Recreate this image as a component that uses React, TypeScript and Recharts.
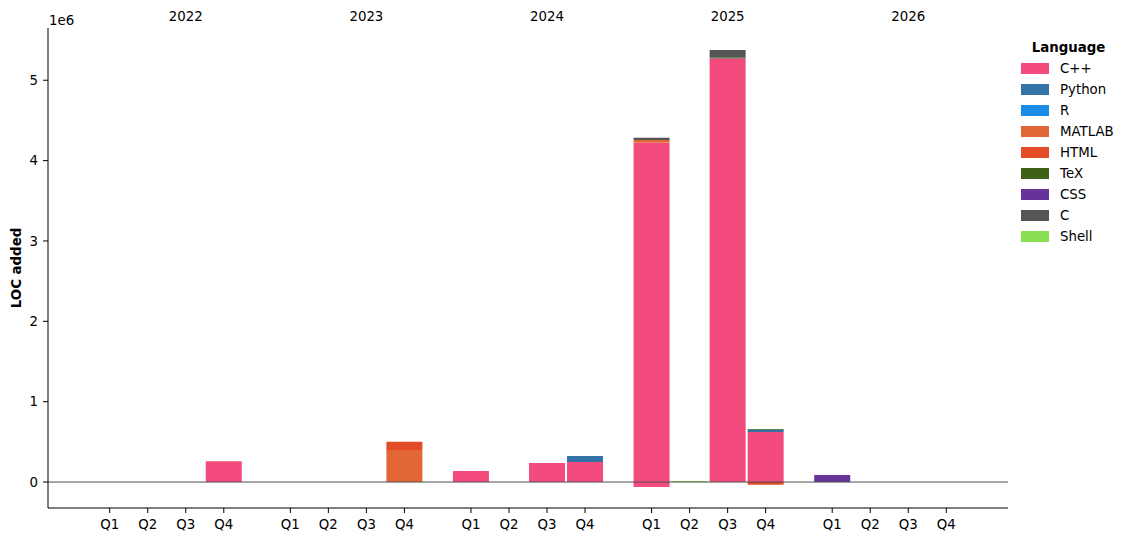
import React from 'react';
import { BarChart, Bar, XAxis, YAxis, ReferenceLine } from 'recharts';

const years = ['2022', '2023', '2024', '2025', '2026'];
const quarters = ['Q1', 'Q2', 'Q3', 'Q4'];
const languages = ['C++', 'Python', 'R', 'MATLAB', 'HTML', 'TeX', 'CSS', 'C', 'Shell'];
const colors = ['#f34b7d', '#3572A5', '#198CE7', '#e16737', '#e34c26', '#3D6117', '#663399', '#555555', '#89e051'];

// LOC added per quarter (2022Q1 .. 2026Q4)
const cppAdded = [0, 0, 0, 260000, 0, 0, 0, 0, 137000, 0, 236000, 250000, 4225000, 0, 5270000, 622000, 0, 0, 0, 0];
const pythonAdded = [0, 0, 0, 0, 0, 0, 0, 0, 0, 0, 0, 75000, 0, 0, 0, 28000, 0, 0, 0, 0];
const rAdded = [0, 0, 0, 0, 0, 0, 0, 0, 0, 0, 0, 0, 0, 0, 0, 0, 0, 0, 0, 0];
const matlabAdded = [0, 0, 0, 0, 0, 0, 0, 400000, 0, 0, 0, 0, 30000, 0, 0, 0, 0, 0, 0, 0];
const htmlAdded = [0, 0, 0, 0, 0, 0, 0, 100000, 0, 0, 0, 0, 0, 0, 0, 0, 0, 0, 0, 0];
const texAdded = [0, 0, 0, 0, 0, 0, 0, 0, 0, 0, 0, 0, 0, 0, 12000, 10000, 0, 0, 0, 0];
const cssAdded = [0, 0, 0, 0, 0, 0, 0, 0, 0, 0, 0, 0, 0, 0, 0, 0, 87000, 0, 0, 0];
const cAdded = [0, 0, 0, 0, 0, 0, 0, 0, 0, 0, 0, 0, 28000, 0, 93000, 0, 0, 0, 0, 0];
const shellAdded = [0, 0, 0, 0, 0, 0, 0, 0, 0, 0, 0, 0, 0, 12000, 0, 0, 0, 0, 0, 0];
// negative contributions
const cppRemoved = [0, 0, 0, 0, 0, 0, 0, 0, 0, 0, 0, 0, -62000, 0, 0, 0, 0, 0, 0, 0];
const htmlRemoved = [0, 0, 0, 0, 0, 0, 0, 0, 0, 0, 0, 0, 0, 0, 0, -35000, 0, 0, 0, 0];

const yTicks = [0, 1000000, 2000000, 3000000, 4000000, 5000000];

const seriesValues = [cppAdded, pythonAdded, rAdded, matlabAdded, htmlAdded, texAdded, cssAdded, cAdded, shellAdded];

const YEAR_STEP = 4.75;

const data = years.flatMap((y, yi) =>
  quarters.map((q, qi) => {
    const i = yi * 4 + qi;
    const row: Record<string, number | string> = { pos: yi * YEAR_STEP + qi, quarter: q, year: y };
    languages.forEach((lang, li) => {
      row[lang] = seriesValues[li][i];
    });
    row['C++ removed'] = cppRemoved[i];
    row['HTML removed'] = htmlRemoved[i];
    return row;
  })
);

const qTicks = data.map((d) => d.pos as number);
const xDomain = [-1.6225, 22 + 1.6225];

const FONT = 'DejaVu Sans';
const FS = 13.33;

const findRow = (v: number) => data.find((r) => Math.abs((r.pos as number) - v) < 1e-6);

const QuarterTick = (props: any) => {
  const { x, y, payload } = props;
  const row = findRow(payload.value);
  if (!row) return null;
  const isMid = row.quarter === 'Q3';
  return (
    <g>
      <text x={x} y={y} dy="0.71em" textAnchor="middle" fontSize={FS} fill="#000" fontFamily={FONT}>
        {row.quarter as string}
      </text>
      {isMid && (
        <text x={x} y={21} textAnchor="middle" fontSize={FS} fill="#000" fontFamily={FONT}>
          {row.year as string}
        </text>
      )}
    </g>
  );
};

const LegendBox = () => (
  <div style={{ position: 'absolute', left: 1012, top: 37, width: 119, fontFamily: FONT, fontSize: FS, color: '#000' }}>
    <div style={{ height: 21, lineHeight: '21px', fontWeight: 'bold', textAlign: 'center', width: 113 }}>Language</div>
    {languages.map((l, i) => (
      <div key={l} style={{ height: 21, display: 'flex', alignItems: 'center' }}>
        <div style={{ width: 28, height: 11, background: colors[i], marginLeft: 9, flexShrink: 0 }} />
        <span style={{ marginLeft: 11 }}>{l}</span>
      </div>
    ))}
  </div>
);

export default function App() {
  return (
    <div style={{ position: 'absolute', left: 0, top: 0, width: 1131, height: 542, background: '#fff' }}>
      <BarChart
        width={1131}
        height={542}
        data={data}
        stackOffset="sign"
        margin={{ top: 28, right: 123, bottom: 0, left: 0 }}
        style={{ fontFamily: FONT }}
      >
        <XAxis
          type="number"
          dataKey="pos"
          domain={xDomain}
          allowDataOverflow
          ticks={qTicks}
          interval={0}
          height={34}
          tickSize={5}
          tickMargin={7}
          axisLine={{ stroke: '#000', strokeWidth: 1 }}
          tickLine={{ stroke: '#000' }}
          tick={<QuarterTick />}
        />
        <YAxis
          type="number"
          domain={[-323000, 5650000]}
          allowDataOverflow
          ticks={yTicks}
          interval={0}
          tickFormatter={(v: number) => String(Math.round(v / 1e6))}
          width={48}
          tickSize={5}
          tickMargin={5}
          axisLine={{ stroke: '#000', strokeWidth: 1 }}
          tickLine={{ stroke: '#000' }}
          tick={{ fill: '#000', fontSize: FS }}
          label={{
            content: (props: any) => {
              const vb = props.viewBox || { y: 28, height: 480 };
              const cy = vb.y + vb.height / 2;
              return (
                <g>
                  <text
                    x={16}
                    y={cy}
                    transform={`rotate(-90, 16, ${cy})`}
                    textAnchor="middle"
                    dominantBaseline="central"
                    fontSize={FS}
                    fontWeight="bold"
                    fill="#000"
                    fontFamily={FONT}
                  >
                    LOC added
                  </text>
                  <text x={49} y={25} fontSize={FS} fill="#000" fontFamily={FONT}>1e6</text>
                </g>
              );
            },
          }}
        />
        {languages.map((l, i) => (
          <Bar key={l} dataKey={l} stackId="s" fill={colors[i]} barSize={36} isAnimationActive={false} />
        ))}
        <Bar dataKey="C++ removed" stackId="s" fill={colors[0]} barSize={36} legendType="none" isAnimationActive={false} />
        <Bar dataKey="HTML removed" stackId="s" fill={colors[4]} barSize={36} legendType="none" isAnimationActive={false} />
        <ReferenceLine y={0} stroke="#4d4d4d" strokeWidth={1} />
      </BarChart>
      <LegendBox />
    </div>
  );
}
